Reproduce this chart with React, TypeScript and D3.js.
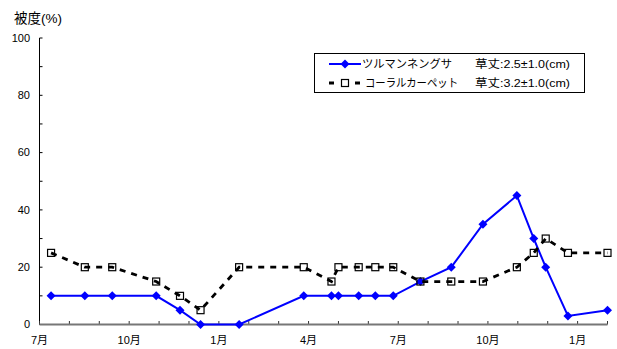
import React from "react";
import * as d3 from "d3";

const dates = [
  "2003-07-13", "2003-08-17", "2003-09-14", "2003-10-29", "2003-11-22", "2003-12-13",
  "2004-01-22", "2004-03-27", "2004-04-24", "2004-05-01", "2004-05-22", "2004-06-08",
  "2004-06-26", "2004-07-24", "2004-08-25", "2004-09-26", "2004-10-31", "2004-11-17",
  "2004-11-29", "2004-12-22", "2005-02-01",
];
const tsuruValues = [10, 10, 10, 10, 5, 0, 0, 10, 10, 10, 10, 10, 10, 15, 20, 35, 45, 30, 20, 3, 5];
const coralValues = [25, 20, 20, 15, 10, 5, 20, 20, 15, 20, 20, 20, 20, 15, 15, 15, 20, 25, 30, 25, 25];
const seriesNames = ["ツルマンネングサ", "コーラルカーペット"];
const seriesNotes = ["草丈:2.5±1.0(cm)", "草丈:3.2±1.0(cm)"];
const yTicks = [0, 20, 40, 60, 80, 100];
const xTickLabels = ["7月", "10月", "1月", "4月", "7月", "10月", "1月"];
const yTitle = "被度(%)";

// fractional month index from 2003-07-01
function monthIndex(s: string): number {
  const [y, m, d] = s.split("-").map(Number);
  const dim = new Date(y, m, 0).getDate();
  return (y - 2003) * 12 + (m - 7) + (d - 1) / dim;
}

const W = 617, H = 349;
const left = 39.5, right = 607.5, top = 38, bottom = 324.5;

export default function App() {
  const x = d3.scaleLinear().domain([0, 19]).range([left, right]);
  const y = d3.scaleLinear().domain([0, 100]).range([bottom, top]);
  const xs = dates.map(monthIndex);
  const line = d3.line<number>().x((_, i) => x(xs[i])).y((v) => y(v));
  const font = "'Liberation Sans', 'Noto Sans CJK JP', sans-serif";
  const diamond = (cx: number, cy: number, r = 4.5) =>
    `M${cx},${cy - r}L${cx + r},${cy}L${cx},${cy + r}L${cx - r},${cy}Z`;
  const sq = 3.5;
  return (
    <svg width={W} height={H} style={{ position: "absolute", left: 0, top: 0, background: "#fff" }} fontFamily={font}>
      <rect width={W} height={H} fill="#fff" />
      <text x={14} y={23} fontSize={13.5} fill="#000" textLength={48} lengthAdjust="spacingAndGlyphs">{yTitle}</text>
      {/* y axis */}
      <line x1={left} x2={left} y1={top} y2={bottom} stroke="#000" strokeWidth={1} />
      {d3.range(0, 101, 10).map((v) => (
        <line key={v} x1={left} x2={left + 3} y1={y(v)} y2={y(v)} stroke="#000" />
      ))}
      {yTicks.map((v) => (
        <text key={v} x={30} y={y(v)} dy="0.35em" textAnchor="end" fontSize={11} fill="#000">{v}</text>
      ))}
      {/* x axis */}
      {d3.range(0, 20).map((m) => (
        <line key={m} x1={x(m)} x2={x(m)} y1={bottom} y2={bottom - 3.5} stroke="#333" />
      ))}
      <line x1={left} x2={right} y1={bottom} y2={bottom} stroke="#777" strokeWidth={2} />
      {xTickLabels.map((t, i) => (
        <text key={i} x={x(i * 3)} y={340} dy="0.35em" textAnchor="middle" fontSize={11} fill="#000">{t}</text>
      ))}
      {/* series 1 */}
      <path d={line(tsuruValues) || ""} fill="none" stroke="#0000ff" strokeWidth={2} />
      {tsuruValues.map((v, i) => (
        <path key={i} d={diamond(x(xs[i]), y(v))} fill="#0000ff" />
      ))}
      {/* series 2 */}
      <path d={line(coralValues) || ""} fill="none" stroke="#000" strokeWidth={2.8} strokeDasharray="6,6" />
      {coralValues.map((v, i) => (
        <rect key={i} x={x(xs[i]) - sq} y={y(v) - sq} width={sq * 2} height={sq * 2} fill="none" stroke="#000" strokeWidth={1.2} />
      ))}
      {/* legend */}
      <rect x={314.5} y={53.5} width={270} height={39} fill="#fff" stroke="#000" strokeWidth={1} />
      <line x1={329} x2={361} y1={64} y2={64} stroke="#0000ff" strokeWidth={2} />
      <path d={diamond(345, 64)} fill="#0000ff" />
      <line x1={329} x2={362} y1={83} y2={83} stroke="#000" strokeWidth={2.8} strokeDasharray="5,8" />
      <rect x={345 - sq} y={83 - sq} width={sq * 2} height={sq * 2} fill="#fff" stroke="#000" strokeWidth={1.2} />
      <text x={362} y={64} dy="0.35em" fontSize={11.5} fill="#000" textLength={90} lengthAdjust="spacingAndGlyphs">{seriesNames[0]}</text>
      <text x={365} y={83} dy="0.35em" fontSize={11.5} fill="#000" textLength={93} lengthAdjust="spacingAndGlyphs">{seriesNames[1]}</text>
      <text x={475} y={64} dy="0.35em" fontSize={11.5} fill="#000" textLength={95} lengthAdjust="spacingAndGlyphs">{seriesNotes[0]}</text>
      <text x={475} y={83} dy="0.35em" fontSize={11.5} fill="#000" textLength={95} lengthAdjust="spacingAndGlyphs">{seriesNotes[1]}</text>
    </svg>
  );
}
